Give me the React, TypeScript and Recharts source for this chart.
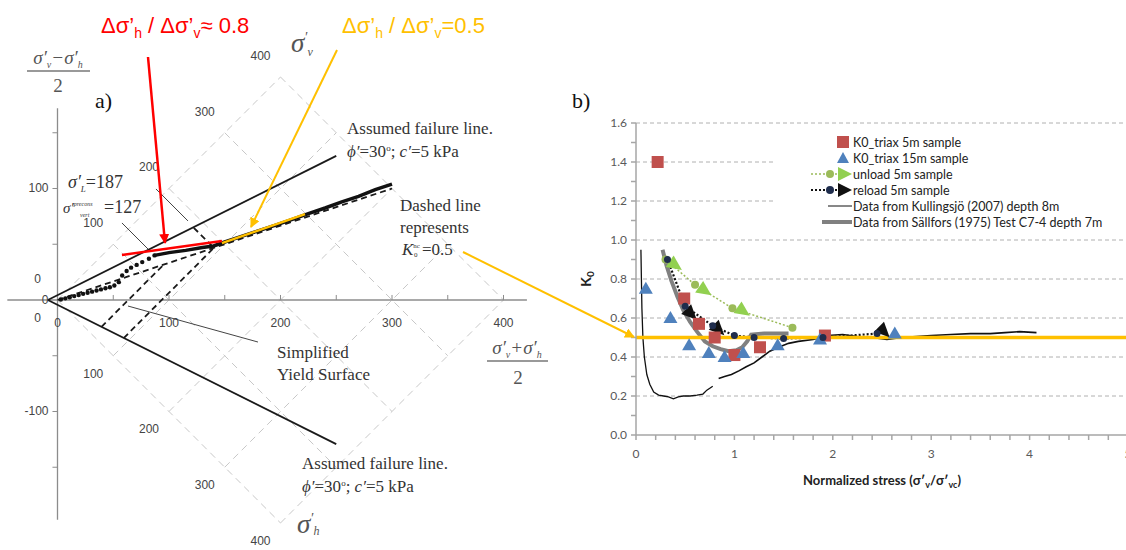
import React from 'react';
import { ComposedChart, Line, Scatter, XAxis, YAxis, ReferenceLine, ReferenceDot, Legend } from 'recharts';

const SERIF = '"Liberation Serif", "Times New Roman", serif';
const SANS = '"Liberation Sans", Arial, sans-serif';
const CALI = 'Lato, "Open Sans", sans-serif';

// ---------- panel a) : p' = (s'v+s'h)/2 , q = (s'v-s'h)/2 , kPa ----------
// domain chosen so that 1 kPa = 1.115 px on both axes, origin at (57.5, 300)
const P_MIN = -51.57;
const P_MAX = 450.67;
const Q_MIN = -224.22;
const Q_MAX = 269.06;

const pTickLabels = [0, 100, 200, 300, 400];
const pTickMarks = [50, 100, 150, 200, 250, 300, 350, 400];
const qTickLabels = [100, 0, -100];
const qTickMarks = [150, 100, 50, -50, -100, -150];
const diagGrid = [0, 100, 200, 300, 400];
const diagLabels = [0, 100, 200, 300, 400];

const failureUpper = [{ p: -8.66, q: 0 }, { p: 250, q: 129.3 }];
const failureLower = [{ p: -8.66, q: 0 }, { p: 250, q: -129.3 }];
const k0ncLine = [{ p: 0, q: 0 }, { p: 300, q: 100 }];
const yieldInner = [{ p: 39.4, q: -24.1 }, { p: 95.3, q: 31.8 }];
const yieldOuter = [{ p: 59.4, q: -34.1 }, { p: 140.3, q: 46.8 }, { p: 121.8, q: 65.2 }];

const pathDots = [
  { p: 3, q: 0.5 }, { p: 7, q: 1.5 }, { p: 11, q: 2.5 }, { p: 15, q: 3.5 }, { p: 19, q: 4.5 },
  { p: 23, q: 5.5 }, { p: 27, q: 6.5 }, { p: 31, q: 7.5 }, { p: 35, q: 8.5 }, { p: 39, q: 9.5 },
  { p: 43, q: 10.5 }, { p: 47, q: 11.5 }, { p: 51, q: 13 }, { p: 55, q: 16 }, { p: 58, q: 22 },
  { p: 62, q: 26 }, { p: 66, q: 29 }, { p: 71, q: 31.5 }, { p: 76, q: 34 }, { p: 82, q: 37 },
  { p: 87, q: 40 },
];
const pathLine = [
  { p: 87, q: 40 }, { p: 100, q: 42.5 }, { p: 115, q: 44.5 }, { p: 130, q: 47 }, { p: 140, q: 48.5 },
  { p: 150, q: 52 }, { p: 165, q: 57 }, { p: 180, q: 62 }, { p: 195, q: 67 }, { p: 210, q: 72 },
  { p: 225, q: 77.5 }, { p: 240, q: 82.5 }, { p: 255, q: 88 }, { p: 270, q: 93 }, { p: 285, q: 99 },
  { p: 300, q: 104 },
];
const redSlope = [{ p: 57.8, q: 40.4 }, { p: 147.5, q: 52.9 }];
const yellowSlope = [{ p: 147.5, q: 51 }, { p: 222, q: 77 }];
const leaderSigmaL = [{ p: 88.3, q: 99.6 }, { p: 117, q: 70.9 }];
const leaderPrecons = [{ p: 57.8, q: 69.1 }, { p: 81.2, q: 45.7 }];
const leaderYield = [{ p: 63.2, q: -5.4 }, { p: 179.8, q: -37.7 }];

// ---------- panel b) : K0 vs normalized stress ----------
const xTicks = [0, 0.2, 0.4, 0.6, 0.8, 1, 1.2, 1.4, 1.6, 1.8, 2, 2.2, 2.4, 2.6, 2.8, 3, 3.2, 3.4, 3.6, 3.8, 4, 4.2, 4.4, 4.6, 4.8, 5];
const yTicks = [0, 0.1, 0.2, 0.3, 0.4, 0.5, 0.6, 0.7, 0.8, 0.9, 1, 1.1, 1.2, 1.3, 1.4, 1.5, 1.6];
const gridK = [0.2, 0.4, 0.6, 0.8, 1.0, 1.2, 1.4, 1.6];

const triax5m = [
  { x: 0.22, k: 1.4 }, { x: 0.49, k: 0.7 }, { x: 0.64, k: 0.57 }, { x: 0.8, k: 0.5 },
  { x: 1.0, k: 0.41 }, { x: 1.26, k: 0.45 }, { x: 1.92, k: 0.51 },
];
const triax15m = [
  { x: 0.1, k: 0.75 }, { x: 0.35, k: 0.6 }, { x: 0.54, k: 0.46 }, { x: 0.74, k: 0.42 },
  { x: 0.9, k: 0.4 }, { x: 1.09, k: 0.42 }, { x: 1.44, k: 0.46 }, { x: 1.87, k: 0.49 }, { x: 2.63, k: 0.52 },
];
const unloadPts = [{ x: 0.3, k: 0.9 }, { x: 0.6, k: 0.77 }, { x: 0.98, k: 0.65 }, { x: 1.59, k: 0.55 }];
const unloadArrows = [{ x: 0.4, k: 0.87 }, { x: 0.7, k: 0.74 }, { x: 1.09, k: 0.635 }];
const reloadPts = [
  { x: 0.32, k: 0.9 }, { x: 0.5, k: 0.66 }, { x: 0.78, k: 0.56 }, { x: 1.0, k: 0.51 },
  { x: 1.2, k: 0.5 }, { x: 1.5, k: 0.495 }, { x: 1.9, k: 0.5 }, { x: 2.45, k: 0.52 },
];
const reloadArrows = [{ x: 0.56, k: 0.62 }, { x: 0.84, k: 0.54 }, { x: 2.52, k: 0.53 }];
const kullingsjoEarly = [
  { x: 0.05, k: 0.95 }, { x: 0.055, k: 0.8 }, { x: 0.06, k: 0.65 }, { x: 0.07, k: 0.5 },
  { x: 0.085, k: 0.4 }, { x: 0.11, k: 0.31 }, { x: 0.14, k: 0.26 }, { x: 0.18, k: 0.22 },
  { x: 0.23, k: 0.205 }, { x: 0.28, k: 0.2 }, { x: 0.33, k: 0.195 }, { x: 0.38, k: 0.185 },
  { x: 0.43, k: 0.195 }, { x: 0.48, k: 0.2 }, { x: 0.55, k: 0.2 }, { x: 0.62, k: 0.205 },
  { x: 0.68, k: 0.21 }, { x: 0.72, k: 0.23 }, { x: 0.78, k: 0.25 },
];
const kullingsjoLate = [
  { x: 0.84, k: 0.29 }, { x: 0.9, k: 0.3 }, { x: 0.97, k: 0.31 }, { x: 1.05, k: 0.33 },
  { x: 1.12, k: 0.35 }, { x: 1.2, k: 0.37 }, { x: 1.28, k: 0.4 }, { x: 1.36, k: 0.43 },
  { x: 1.45, k: 0.45 }, { x: 1.55, k: 0.47 }, { x: 1.65, k: 0.48 }, { x: 1.8, k: 0.49 },
  { x: 1.95, k: 0.51 }, { x: 2.1, k: 0.515 }, { x: 2.25, k: 0.505 }, { x: 2.4, k: 0.5 },
  { x: 2.55, k: 0.49 }, { x: 2.7, k: 0.5 }, { x: 2.85, k: 0.505 }, { x: 3.0, k: 0.51 },
  { x: 3.2, k: 0.515 }, { x: 3.4, k: 0.52 }, { x: 3.6, k: 0.52 }, { x: 3.75, k: 0.525 },
  { x: 3.9, k: 0.53 }, { x: 4.07, k: 0.525 },
];
const sallfors = [
  { x: 0.27, k: 0.95 }, { x: 0.31, k: 0.87 }, { x: 0.36, k: 0.79 }, { x: 0.42, k: 0.71 },
  { x: 0.48, k: 0.64 }, { x: 0.55, k: 0.58 }, { x: 0.62, k: 0.53 }, { x: 0.7, k: 0.48 },
  { x: 0.78, k: 0.455 }, { x: 0.86, k: 0.44 }, { x: 0.94, k: 0.43 }, { x: 1.02, k: 0.435 },
  { x: 1.08, k: 0.45 }, { x: 1.13, k: 0.48 }, { x: 1.17, k: 0.515 }, { x: 1.3, k: 0.52 },
  { x: 1.45, k: 0.52 }, { x: 1.55, k: 0.52 },
];
const K0NC = 0.5;

const legendItems = [
  { name: 'K0_triax 5m sample', icon: 'square' },
  { name: 'K0_triax 15m sample', icon: 'triangle' },
  { name: 'unload 5m sample', icon: 'unload' },
  { name: 'reload 5m sample', icon: 'reload' },
  { name: 'Data from Kullingsjö (2007) depth 8m', icon: 'thin' },
  { name: 'Data from Sällfors (1975) Test C7-4 depth 7m', icon: 'thick' },
];

const RED = '#c0504d';
const BLUE = '#4f81bd';
const OLIVE = '#9bbb59';
const LIME = '#92d050';
const GOLD = '#ffc000';

// ---- shapes ----
const textAt = (txt: string, dx: number, dy: number, anchor = 'middle') => (props: any) => (
  <text x={props.cx + dx} y={props.cy + dy} textAnchor={anchor} fontFamily={SANS} fontSize={12} fill="#444">
    {txt}
  </text>
);
const smallDot = (props: any) => <circle cx={props.cx} cy={props.cy} r={2.2} fill="#111" />;
const squareShape = (props: any) => <rect x={props.cx - 6} y={props.cy - 6} width={12} height={12} fill={RED} />;
const triShape = (props: any) => (
  <polygon points={`${props.cx},${props.cy - 7} ${props.cx - 7},${props.cy + 5} ${props.cx + 7},${props.cy + 5}`} fill={BLUE} />
);
const arrowShape = (fill: string, angle: number) => (props: any) => (
  <polygon points="-7,-7 8,0 -7,7" transform={`translate(${props.cx},${props.cy}) rotate(${angle})`} fill={fill} />
);

function PanelA() {
  const grey = '#c8c8c8';
  return (
    <ComposedChart width={560} height={550} margin={{ top: 0, right: 0, bottom: 0, left: 0 }}>
      <XAxis type="number" dataKey="p" domain={[P_MIN, P_MAX]} hide allowDataOverflow />
      <YAxis type="number" dataKey="q" domain={[Q_MIN, Q_MAX]} hide allowDataOverflow />

      {diagGrid.map((s) => (
        <ReferenceLine key={'gv' + s} ifOverflow="visible" stroke={grey} strokeDasharray="7 5"
          segment={[{ x: s / 2, y: s / 2 }, { x: (s + 400) / 2, y: (s - 400) / 2 }]} />
      ))}
      {diagGrid.map((s) => (
        <ReferenceLine key={'gh' + s} ifOverflow="visible" stroke={grey} strokeDasharray="7 5"
          segment={[{ x: s / 2, y: -s / 2 }, { x: (s + 400) / 2, y: (400 - s) / 2 }]} />
      ))}

      <ReferenceLine ifOverflow="visible" stroke="#8c8c8c" strokeWidth={1.3} segment={[{ x: -45, y: 0 }, { x: 421, y: 0 }]} />
      <ReferenceLine ifOverflow="visible" stroke="#8c8c8c" strokeWidth={1.3} segment={[{ x: 0, y: 172 }, { x: 0, y: -197 }]} />
      {pTickMarks.map((v) => (
        <ReferenceLine key={'pt' + v} ifOverflow="visible" stroke="#8c8c8c" segment={[{ x: v, y: 0 }, { x: v, y: 4.5 }]} />
      ))}
      {qTickMarks.map((v) => (
        <ReferenceLine key={'qt' + v} ifOverflow="visible" stroke="#8c8c8c" segment={[{ x: 0, y: v }, { x: -4.5, y: v }]} />
      ))}
      {pTickLabels.map((v) => (
        <ReferenceDot key={'pl' + v} x={v} y={0} ifOverflow="visible" shape={textAt(String(v), 0, 27)} />
      ))}
      {qTickLabels.map((v) => (
        <ReferenceDot key={'ql' + v} x={0} y={v} ifOverflow="visible" shape={textAt(String(v), -9, 4, 'end')} />
      ))}
      {diagLabels.map((s) => (
        <ReferenceDot key={'dv' + s} x={s / 2} y={s / 2} ifOverflow="visible" shape={textAt(String(s), -20, -17)} />
      ))}
      {diagLabels.map((s) => (
        <ReferenceDot key={'dh' + s} x={s / 2} y={-s / 2} ifOverflow="visible" shape={textAt(String(s), -20, 22)} />
      ))}

      <Line data={leaderSigmaL} dataKey="q" stroke="#444" strokeWidth={1} dot={false} activeDot={false} isAnimationActive={false} />
      <Line data={leaderPrecons} dataKey="q" stroke="#444" strokeWidth={1} dot={false} activeDot={false} isAnimationActive={false} />
      <Line data={leaderYield} dataKey="q" stroke="#444" strokeWidth={1} dot={false} activeDot={false} isAnimationActive={false} />

      <Line data={failureUpper} dataKey="q" stroke="#1a1a1a" strokeWidth={1.8} dot={false} activeDot={false} isAnimationActive={false} />
      <Line data={failureLower} dataKey="q" stroke="#1a1a1a" strokeWidth={1.8} dot={false} activeDot={false} isAnimationActive={false} />
      <Line data={k0ncLine} dataKey="q" stroke="#1a1a1a" strokeWidth={1.8} strokeDasharray="6 4" dot={false} activeDot={false} isAnimationActive={false} />
      <Line data={yieldInner} dataKey="q" stroke="#1a1a1a" strokeWidth={1.8} strokeDasharray="6 4" dot={false} activeDot={false} isAnimationActive={false} />
      <Line data={yieldOuter} dataKey="q" stroke="#1a1a1a" strokeWidth={1.8} strokeDasharray="6 4" dot={false} activeDot={false} isAnimationActive={false} />

      <Scatter data={pathDots} dataKey="q" shape={smallDot} isAnimationActive={false} />
      <Line data={pathLine} dataKey="q" stroke="#111" strokeWidth={3.5} dot={false} activeDot={false} isAnimationActive={false} />

      <Line data={redSlope} dataKey="q" stroke="#ff0000" strokeWidth={2.5} dot={false} activeDot={false} isAnimationActive={false} />
      <Line data={yellowSlope} dataKey="q" stroke={GOLD} strokeWidth={2.5} dot={false} activeDot={false} isAnimationActive={false} />
    </ComposedChart>
  );
}

function legendIcon(kind: string) {
  switch (kind) {
    case 'square':
      return <rect x={29} y={2} width={12} height={12} fill={RED} />;
    case 'triangle':
      return <polygon points="35,2 29,13 41,13" fill={BLUE} />;
    case 'unload':
      return (
        <g>
          <line x1={3} x2={40} y1={8} y2={8} stroke={OLIVE} strokeWidth={1.5} strokeDasharray="2 2" />
          <circle cx={22} cy={8} r={4} fill={OLIVE} />
          <polygon points="30,1 44,8 30,15" fill={LIME} />
        </g>
      );
    case 'reload':
      return (
        <g>
          <line x1={3} x2={40} y1={8} y2={8} stroke="#111" strokeWidth={2} strokeDasharray="2 2" />
          <circle cx={22} cy={8} r={4} fill="#1f2d4d" />
          <polygon points="30,1 44,8 30,15" fill="#111" />
        </g>
      );
    case 'thin':
      return <line x1={20} x2={44} y1={8} y2={8} stroke="#111" strokeWidth={1} />;
    default:
      return <line x1={14} x2={44} y1={8} y2={8} stroke="#808080" strokeWidth={4} />;
  }
}

function LegendBox() {
  return (
    <div style={{ fontFamily: CALI, fontSize: 12.5, color: '#222' }}>
      {legendItems.map((it) => (
        <div key={it.name} style={{ display: 'flex', alignItems: 'center', height: 16 }}>
          <svg width={44} height={16}>{legendIcon(it.icon)}</svg>
          <span style={{ marginLeft: 1, whiteSpace: 'nowrap' }}>{it.name}</span>
        </div>
      ))}
    </div>
  );
}

const xTitle = (props: any) => {
  const vb = props.viewBox || { x: 76, y: 435, width: 492, height: 30 };
  return (
    <text x={vb.x + vb.width / 2} y={vb.y + 50} textAnchor="middle" fontFamily={CALI} fontWeight={700} fontSize={13} fill="#222">
      Normalized stress (σ′<tspan fontSize={9} dy={3}>v</tspan>
      <tspan dy={-3}>/σ′</tspan>
      <tspan fontSize={9} dy={3}>vc</tspan>
      <tspan dy={-3}>)</tspan>
    </text>
  );
};

const yTitle = (props: any) => {
  const vb = props.viewBox || { x: 36, y: 123, width: 40, height: 312 };
  const cx = vb.x - 5;
  const cy = vb.y + vb.height * (1 - 0.8 / 1.6);
  return (
    <text x={cx} y={cy} transform={`rotate(-90 ${cx} ${cy})`} textAnchor="middle" fontFamily={CALI} fontWeight={700} fontSize={14} fill="#222">
      K<tspan fontSize={10} dy={3}>0</tspan>
    </text>
  );
};

function PanelB() {
  const axisGrey = '#a6a6a6';
  return (
    <ComposedChart width={580} height={550} margin={{ top: 123, right: 12, bottom: 85, left: 36 }}>
      <XAxis type="number" dataKey="x" domain={[0, 5]} ticks={xTicks} interval={0} allowDataOverflow height={30}
        tickFormatter={(v: number) => (v % 1 === 0 ? String(v) : '')} tickMargin={9} tickSize={5}
        stroke={axisGrey} strokeWidth={1.5} tick={{ fill: '#595959', fontSize: 12, fontFamily: CALI }} label={xTitle} />
      <YAxis type="number" dataKey="k" domain={[0, 1.6]} ticks={yTicks} interval={0} allowDataOverflow width={40}
        tickFormatter={(v: number) => (Math.round(v * 10) % 2 === 0 ? v.toFixed(1) : '')} tickMargin={4} tickSize={5}
        stroke={axisGrey} strokeWidth={1.5} tick={{ fill: '#595959', fontSize: 12, fontFamily: CALI }} label={yTitle} />

      {gridK.map((v) => (
        <ReferenceLine key={'g' + v} y={v} stroke="#b0b0b0" strokeDasharray="4 3" />
      ))}

      <Line data={sallfors} dataKey="k" name={legendItems[5].name} stroke="#808080" strokeWidth={4} dot={false} activeDot={false} isAnimationActive={false} />
      <Line data={kullingsjoEarly} dataKey="k" name={legendItems[4].name} stroke="#111" strokeWidth={1.3} dot={false} activeDot={false} isAnimationActive={false} />
      <Line data={kullingsjoLate} dataKey="k" name={legendItems[4].name} stroke="#111" strokeWidth={1.6} dot={false} activeDot={false} isAnimationActive={false} />
      <Line data={unloadPts} dataKey="k" name={legendItems[2].name} stroke={OLIVE} strokeWidth={1.5} strokeDasharray="2 2"
        dot={{ r: 4, fill: OLIVE, stroke: 'none' }} activeDot={false} isAnimationActive={false} />
      <Scatter data={unloadArrows} dataKey="k" shape={arrowShape(LIME, 35)} isAnimationActive={false} />
      <Line data={reloadPts} dataKey="k" name={legendItems[3].name} stroke="#111" strokeWidth={2.2} strokeDasharray="2 2"
        dot={{ r: 3.5, fill: '#1f2d4d', stroke: 'none' }} activeDot={false} isAnimationActive={false} />
      <Scatter data={reloadArrows} dataKey="k" shape={arrowShape('#111', 45)} isAnimationActive={false} />
      <Scatter data={triax5m} dataKey="k" name={legendItems[0].name} shape={squareShape} isAnimationActive={false} />
      <Scatter data={triax15m} dataKey="k" name={legendItems[1].name} shape={triShape} isAnimationActive={false} />

      <ReferenceLine y={K0NC} stroke={GOLD} strokeWidth={3.5} />

      <Legend content={() => <LegendBox />} layout="vertical" align="center" verticalAlign="middle"
        wrapperStyle={{ left: 215, top: 132, width: 365, height: 98, paddingLeft: 33, paddingTop: 2, boxSizing: 'border-box', background: '#fff' }} />
    </ComposedChart>
  );
}

function Overlay() {
  const t = { fontFamily: SERIF, fill: '#333' } as const;
  return (
    <svg width={1126} height={550} style={{ position: 'absolute', left: 0, top: 0, pointerEvents: 'none' }}>
      <defs>
        <marker id="ahRed" viewBox="0 0 10 10" refX="9" refY="5" markerWidth="4" markerHeight="4" orient="auto">
          <path d="M0,0 L10,5 L0,10 z" fill="#ff0000" />
        </marker>
        <marker id="ahGold" viewBox="0 0 10 10" refX="9" refY="5" markerWidth="5" markerHeight="5" orient="auto">
          <path d="M0,0 L10,5 L0,10 z" fill={GOLD} />
        </marker>
      </defs>

      {/* headline ratios */}
      <text x={101} y={33} fontFamily={SANS} fontSize={22} fill="#ff0000">
        Δσ’<tspan fontSize={14} dy={5}>h</tspan><tspan dy={-5}> / Δσ’</tspan><tspan fontSize={14} dy={5}>v</tspan><tspan dy={-5}>≈ 0.8</tspan>
      </text>
      <text x={342} y={33} fontFamily={SANS} fontSize={22} fill={GOLD}>
        Δσ’<tspan fontSize={14} dy={5}>h</tspan><tspan dy={-5}> / Δσ’</tspan><tspan fontSize={14} dy={5}>v</tspan><tspan dy={-5}>=0.5</tspan>
      </text>

      <line x1={148} y1={57} x2={165} y2={243} stroke="#ff0000" strokeWidth={2.5} markerEnd="url(#ahRed)" />
      <line x1={337} y1={50} x2={251} y2={227} stroke={GOLD} strokeWidth={2} markerEnd="url(#ahGold)" />
      <line x1={463} y1={252} x2={634} y2={337} stroke={GOLD} strokeWidth={2} markerEnd="url(#ahGold)" />

      <text x={95} y={108} fontFamily={SERIF} fontSize={22} fill="#111">a)</text>
      <text x={572} y={108} fontFamily={SERIF} fontSize={22} fill="#111">b)</text>

      {/* axis titles of panel a */}
      <text x={58} y={64} textAnchor="middle" fontFamily={SERIF} fontStyle="italic" fontSize={19} fill="#555">
        σ′<tspan fontSize={10} dy={4}>v</tspan><tspan dy={-4}>−σ′</tspan><tspan fontSize={10} dy={4}>h</tspan>
      </text>
      <line x1={27} x2={90} y1={71} y2={71} stroke="#777" strokeWidth={1.5} />
      <text x={58} y={92} textAnchor="middle" fontFamily={SERIF} fontSize={19} fill="#555">2</text>

      <text x={517} y={354} textAnchor="middle" fontFamily={SERIF} fontStyle="italic" fontSize={19} fill="#555">
        σ′<tspan fontSize={10} dy={4}>v</tspan><tspan dy={-4}>+σ′</tspan><tspan fontSize={10} dy={4}>h</tspan>
      </text>
      <line x1={487} x2={548} y1={361} y2={361} stroke="#777" strokeWidth={1.5} />
      <text x={518} y={384} textAnchor="middle" fontFamily={SERIF} fontSize={19} fill="#555">2</text>

      <text x={291} y={52} fontFamily={SERIF} fontStyle="italic" fontSize={27} fill="#555">
        σ<tspan fontSize={14} dy={-10}>′</tspan><tspan fontSize={12} dy={14}>v</tspan>
      </text>
      <text x={297} y={533} fontFamily={SERIF} fontStyle="italic" fontSize={27} fill="#555">
        σ<tspan fontSize={14} dy={-10}>′</tspan><tspan fontSize={12} dy={12}>h</tspan>
      </text>

      {/* annotations of panel a */}
      <text x={347} y={134} fontSize={17} {...t}>Assumed failure line.</text>
      <text x={347} y={157} fontSize={17} {...t}>
        <tspan fontStyle="italic">ϕ′</tspan>=30<tspan fontSize={9} dy={-6}>o</tspan><tspan dy={6}>; </tspan>
        <tspan fontStyle="italic">c′</tspan>=5 kPa
      </text>
      <text x={302} y={469} fontSize={17} {...t}>Assumed failure line.</text>
      <text x={302} y={492} fontSize={17} {...t}>
        <tspan fontStyle="italic">ϕ′</tspan>=30<tspan fontSize={9} dy={-6}>o</tspan><tspan dy={6}>; </tspan>
        <tspan fontStyle="italic">c′</tspan>=5 kPa
      </text>
      <text x={400} y={211} fontSize={17} {...t}>Dashed line</text>
      <text x={400} y={233} fontSize={17} {...t}>represents</text>
      <text x={402} y={255} fontSize={17} {...t}>
        <tspan fontStyle="italic">K</tspan><tspan fontSize={7} dy={-7}>nc</tspan><tspan x={414} fontSize={7} dy={9}>0</tspan>
        <tspan x={422} dy={-2}>=0.5</tspan>
      </text>
      <text x={277} y={358} fontSize={17} {...t}>Simplified</text>
      <text x={277} y={380} fontSize={17} {...t}>Yield Surface</text>
      <text x={68} y={188} fontSize={18} {...t}>
        <tspan fontStyle="italic">σ′</tspan><tspan fontStyle="italic" fontSize={9} dy={4}>L</tspan><tspan dy={-4}>=187</tspan>
      </text>
      <text x={63} y={213} fontSize={15} {...t}>
        <tspan fontStyle="italic">σ′</tspan><tspan fontStyle="italic" fontSize={6} dy={-7}>precons</tspan>
        <tspan x={80} fontStyle="italic" fontSize={6} dy={11}>vert</tspan>
        <tspan x={104} fontSize={18} dy={-4}>=127</tspan>
      </text>
    </svg>
  );
}

export default function App() {
  return (
    <div style={{ position: 'absolute', left: 0, top: 0, width: 1126, height: 550, overflow: 'hidden', background: '#fff' }}>
      <div style={{ position: 'absolute', left: 0, top: 0 }}>
        <PanelA />
      </div>
      <div style={{ position: 'absolute', left: 560, top: 0 }}>
        <PanelB />
      </div>
      <Overlay />
    </div>
  );
}
